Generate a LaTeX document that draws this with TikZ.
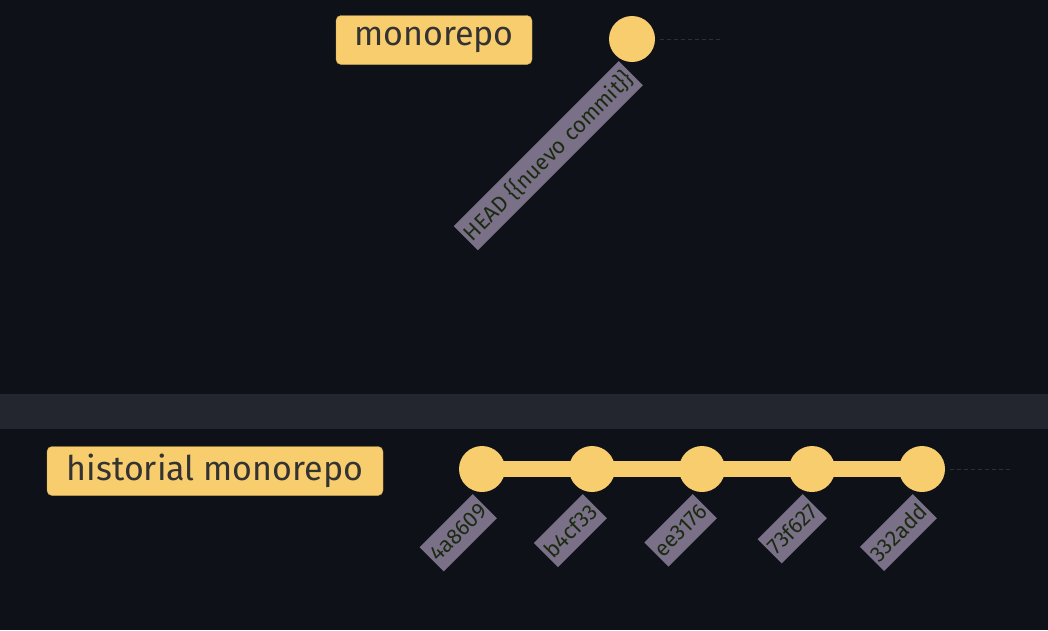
\documentclass[tikz,border=0pt]{standalone}
\usepackage{fontspec}
\setmainfont{Fira Sans}
\usepackage{xcolor}
\usetikzlibrary{positioning}

\definecolor{canvas}{HTML}{0E1117}
\definecolor{band}{HTML}{23262E}
\definecolor{gityellow}{HTML}{F8CD6E}
\definecolor{gitedge}{HTML}{C9A452}
\definecolor{labeltext}{HTML}{333333}
\definecolor{hashfill}{HTML}{7A7188}
\definecolor{hashtext}{HTML}{1C2A12}
\definecolor{tailgrey}{HTML}{2C2F36}

\begin{document}
\begin{tikzpicture}[
    x=1pt, y=-1pt,
    commit/.style={circle, fill=gityellow, minimum size=46pt, inner sep=0pt},
    branchlabel/.style={draw=gitedge, fill=gityellow, rounded corners=5pt, text=labeltext, font=\fontsize{34}{40}\selectfont, minimum height=49pt, inner sep=0pt},
    hashlabel/.style={fill=hashfill, text=hashtext, rotate=45, anchor=east, inner xsep=2pt, inner ysep=0pt, minimum height=34pt, font=\fontsize{22}{24}\selectfont},
    branchline/.style={line width=16pt, gityellow},
    tail/.style={draw=tailgrey, dash pattern=on 4pt off 3pt, line width=1pt}
]
% canvas and the band between the two graphs
\fill[canvas] (0,0) rectangle (1048,630);
\fill[band] (0,394) rectangle (1048,429);

% top graph
\node[branchlabel, minimum width=196pt] (toplabel) at (434,40) {monorepo};
\node[commit] (head) at (632,39) {};
\node[hashlabel] (headhash) at ([shift={(-1,34)}]head.center) {HEAD \{\{nuevo commit\}\}};
\coordinate (toptail) at (720,39);
\draw[tail, shorten <=5pt] (head.east) -- (toptail);

% bottom graph
\node[branchlabel, minimum width=336pt] (histlabel) at (215,471) {historial monorepo};
\foreach \i/\hash in {1/4a8609, 2/b4cf33, 3/ee3176, 4/73f627, 5/332add} {
    \node[commit] (c\i) at (372+110*\i,469) {};
    \node[hashlabel] (h\i) at ([shift={(3,37)}]c\i.center) {\hash};
}
\draw[branchline] (c1.center) -- (c5.center);
\coordinate (histtail) at (1010,469);
\draw[tail, shorten <=5pt] (c5.east) -- (histtail);
\end{tikzpicture}
\end{document}
